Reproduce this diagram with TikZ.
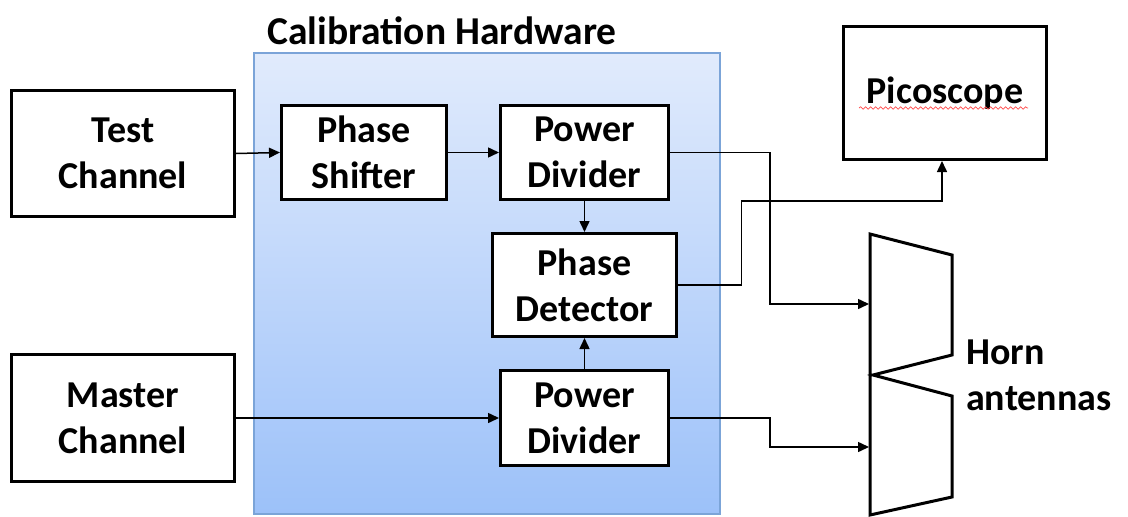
\documentclass[tikz,border=0pt]{standalone}
\usepackage{fontspec}
\setmainfont{Carlito}
\usetikzlibrary{arrows.meta,decorations.pathmorphing}
\definecolor{hwtop}{HTML}{E1EBFC}
\definecolor{hwbot}{HTML}{9CC1F9}
\definecolor{hwborder}{HTML}{7BA4D8}
\tikzset{
  blk/.style={draw=black, line width=3pt, fill=white, align=center,
    font=\fontsize{38}{46}\selectfont\bfseries, inner sep=0pt},
  conn/.style={draw=black, line width=1.5pt, -{Triangle[length=11pt,width=10pt]}},
  lbl/.style={font=\fontsize{38}{46}\selectfont\bfseries, align=center, inner sep=0pt}
}
\begin{document}
\begin{tikzpicture}[x=1pt,y=-1pt]
\useasboundingbox (0,0) rectangle (1128,517);
% calibration hardware area
\shade[top color=hwtop, bottom color=hwbot] (254,53) rectangle (720,514);
\draw[hwborder, line width=1.5pt] (254,53) rectangle (720,514);
\node[lbl, font=\fontsize{39.5}{46}\selectfont\bfseries] (title) at (442,31) {Calibration Hardware};
% blocks
\node[blk, minimum width=223, minimum height=126] (test) at (123,153.5) {Test\\Channel};
\node[blk, minimum width=223, minimum height=127] (master) at (123,418) {Master\\Channel};
\node[blk, minimum width=165, minimum height=94] (shift) at (364,152.5) {Phase\\Shifter};
\node[blk, minimum width=168, minimum height=94] (pdA) at (584.5,152.5) {Power\\Divider};
\node[blk, minimum width=184, minimum height=103] (det) at (584.5,285) {Phase\\Detector};
\node[blk, minimum width=168, minimum height=95] (pdB) at (584.5,418) {Power\\Divider};
\node[blk, minimum width=203, minimum height=133] (pico) at (945,93) {\raisebox{-4pt}{Picoscope}};
\draw[red!70, line width=0.7pt, decorate, decoration={snake, amplitude=1.2pt, segment length=5pt}] (859,108) -- (1028,108);
% horn antennas
\draw[line width=3pt, line join=miter] (870,234) -- (952,255) -- (952,355) -- (873,375) -- (952,396) -- (952,497) -- (870,515) -- cycle;
\coordinate (hornA) at (869,304);
\coordinate (hornB) at (869,447);
\node[lbl, align=left, anchor=west] (hornlbl) at (966,375) {Horn\\antennas};
% connectors
\draw[conn] (test.east) -- (shift.west);
\draw[conn] (shift.east) -- (pdA.west);
\draw[conn] (pdA.south) -- (det.north);
\draw[conn] (pdB.north) -- (det.south);
\draw[conn] (master.east) -- (pdB.west);
\draw[conn] (pdA.east) -- ++(100,0) |- (hornA);
\draw[conn] (pdB.east) -- ++(100,0) |- (hornB);
\draw[conn] ([xshift=-1.5pt]det.east) -- ++(65,0) -- ++(0,-84) -| ([xshift=-3pt]pico.south);
\end{tikzpicture}
\end{document}
